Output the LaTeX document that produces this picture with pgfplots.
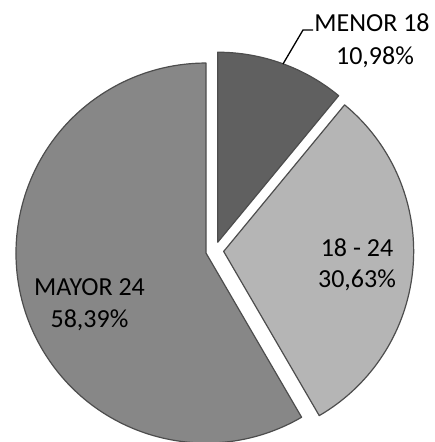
\documentclass[border=0pt]{standalone}
\usepackage{pgfplots}
\pgfplotsset{compat=1.18}
\usetikzlibrary{calc}
\usepackage{fontspec}
\setmainfont{Carlito}
\definecolor{cMenor}{HTML}{606060}
\definecolor{cMid}{HTML}{B5B5B5}
\definecolor{cMayor}{HTML}{878787}
\definecolor{cEdge}{HTML}{4D4D4D}
% shares (percent)
\def\pMenor{10.98}
\def\pMid{30.63}
\def\pMayor{58.39}
\begin{document}
\begin{tikzpicture}
\path[use as bounding box] (0,0) rectangle (435pt,442pt);
\pgfmathsetmacro{\aA}{90-3.6*\pMenor}      % end of MENOR 18 (clockwise from 90)
\pgfmathsetmacro{\aB}{\aA-3.6*\pMid}       % end of 18-24
\pgfmathsetmacro{\aC}{\aB-3.6*\pMayor}
\pgfmathsetmacro{\mA}{(90+\aA)/2}
\pgfmathsetmacro{\mB}{(\aA+\aB)/2}
\pgfmathsetmacro{\mC}{(\aB+\aC)/2}
\begin{axis}[
  at={(0,0)}, anchor=origin,
  scale only axis, width=435pt, height=442pt,
  xmin=0, xmax=435, ymin=0, ymax=442,
  hide axis, clip=true,
]
\def\cx{214.7}\def\cy{191.3}\def\ex{9}\def\R{190pt}
% MENOR 18
\filldraw[fill=cMenor, draw=cEdge, line width=1.2pt, line join=round]
  ($(axis cs:\cx,\cy)+(\mA:\ex pt)$) -- ++(90:\R) arc[start angle=90, end angle=\aA, radius=\R] -- cycle;
% 18 - 24
\filldraw[fill=cMid, draw=cEdge, line width=1.2pt, line join=round]
  ($(axis cs:\cx,\cy)+(\mB:\ex pt)$) -- ++(\aA:\R) arc[start angle=\aA, end angle=\aB, radius=\R] -- cycle;
% MAYOR 24
\filldraw[fill=cMayor, draw=cEdge, line width=1.2pt, line join=round]
  ($(axis cs:\cx,\cy)+(\mC:\ex pt)$) -- ++(\aB:\R) arc[start angle=\aB, end angle=\aC, radius=\R] -- cycle;
\end{axis}
\begin{axis}[
  at={(0,0)}, anchor=origin,
  scale only axis, width=435pt, height=442pt,
  xmin=0, xmax=435, ymin=0, ymax=442,
  hide axis, clip=false,
]
\draw[black, line width=1.3pt] (axis cs:313,412) -- (axis cs:303,412) -- (axis cs:283,378);
\path[font=\fontsize{26}{30}\selectfont, every node/.style={inner sep=0pt, anchor=base}]
  (axis cs:372,410) node {MENOR 18}
  (axis cs:375,377) node {10,98\%}
  (axis cs:357,185) node {18 - 24}
  (axis cs:357,154) node {30,63\%}
  (axis cs:89.5,146) node {MAYOR 24}
  (axis cs:89.5,114) node {58,39\%};
\end{axis}
\end{tikzpicture}
\end{document}
